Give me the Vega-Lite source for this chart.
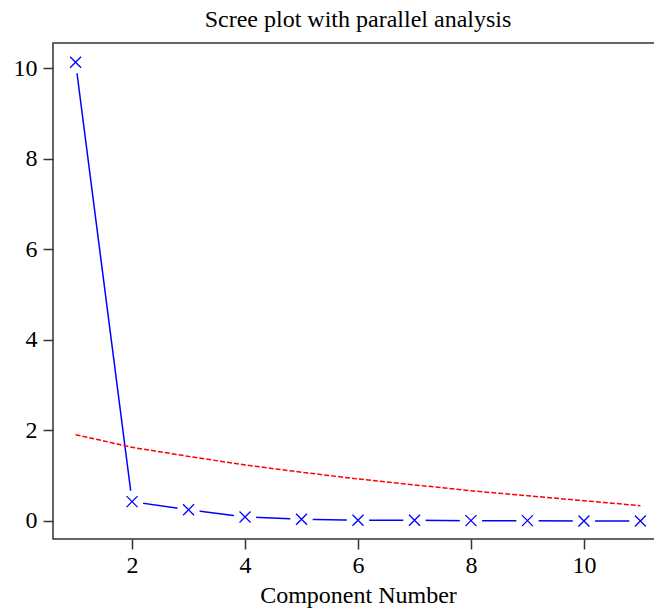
{
  "$schema": "https://vega.github.io/schema/vega-lite/v6.json",
  "autosize": {"type": "none"},
  "padding": {"left": 53, "top": 43, "right": 0, "bottom": 74},
  "width": 610,
  "height": 496,
  "title": {"text": "Scree plot with parallel analysis", "font": "Liberation Serif", "fontSize": 24, "fontWeight": "normal", "color": "#000", "offset": 11, "anchor": "middle"},
  "data": {"values": [
    {"comp": 1, "actual": 10.13, "sim": 1.90},
    {"comp": 2, "actual": 0.42, "sim": 1.62},
    {"comp": 3, "actual": 0.24, "sim": 1.42},
    {"comp": 4, "actual": 0.08, "sim": 1.23},
    {"comp": 5, "actual": 0.03, "sim": 1.07},
    {"comp": 6, "actual": 0.01, "sim": 0.92},
    {"comp": 7, "actual": 0.01, "sim": 0.79},
    {"comp": 8, "actual": 0.0, "sim": 0.66},
    {"comp": 9, "actual": 0.0, "sim": 0.55},
    {"comp": 10, "actual": -0.01, "sim": 0.44},
    {"comp": 11, "actual": -0.01, "sim": 0.33}
  ]},
  "encoding": {
    "x": {"field": "comp", "type": "quantitative", "title": "Component Number",
      "scale": {"domain": [0.6, 11.4], "nice": false, "zero": false},
      "axis": {"values": [2, 4, 6, 8, 10], "grid": false, "domain": false, "tickColor": "#333", "tickWidth": 1.5, "tickSize": 10, "labelPadding": 4, "labelFont": "Liberation Serif", "labelFontSize": 24, "labelColor": "#000", "titleFont": "Liberation Serif", "titleFontSize": 24, "titleFontWeight": "normal", "titleColor": "#000", "titlePadding": 6}}
  },
  "layer": [
    {"mark": {"type": "line", "color": "#0000FF", "strokeWidth": 1.5},
     "encoding": {"y": {"field": "actual", "type": "quantitative", "title": null,
       "scale": {"domain": [-0.406, 10.556], "nice": false, "zero": false},
       "axis": {"values": [0, 2, 4, 6, 8, 10], "grid": false, "domain": false, "tickColor": "#333", "tickWidth": 1.5, "tickSize": 10, "labelPadding": 6, "labelFont": "Liberation Serif", "labelFontSize": 24, "labelColor": "#000"}}}},
    {"mark": {"type": "point", "shape": "circle", "filled": true, "color": "white", "opacity": 1, "size": 500},
     "encoding": {"y": {"field": "actual", "type": "quantitative"}}},
    {"mark": {"type": "point", "shape": "M-1,-1L1,1M-1,1L1,-1", "filled": false, "color": "#0000FF", "strokeWidth": 1.3, "opacity": 1, "size": 121},
     "encoding": {"y": {"field": "actual", "type": "quantitative"}}},
    {"mark": {"type": "line", "color": "#FF0000", "strokeWidth": 1.5, "strokeDash": [5, 2]},
     "encoding": {"y": {"field": "sim", "type": "quantitative"}}}
  ],
  "config": {"view": {"stroke": "#333", "strokeWidth": 1.5}, "background": "white"}
}
